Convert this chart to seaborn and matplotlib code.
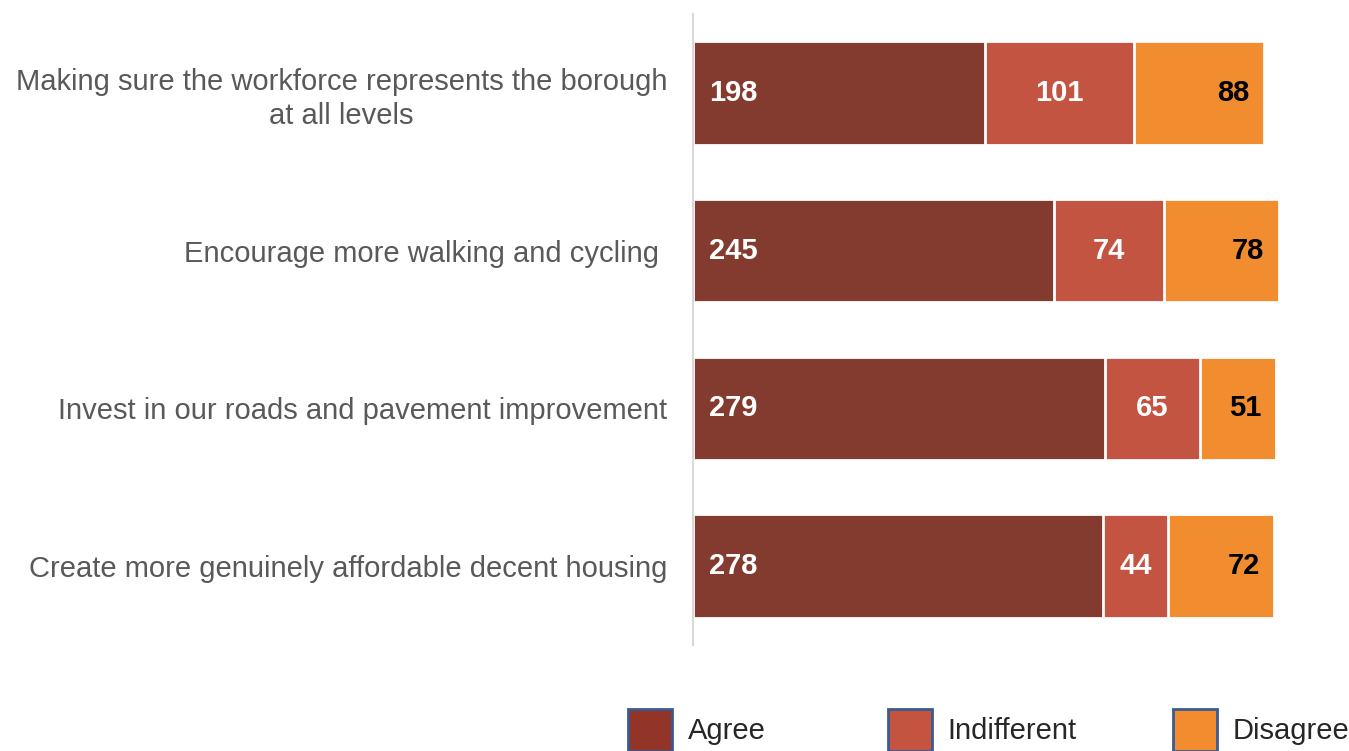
import matplotlib
matplotlib.use("Agg")
import matplotlib.pyplot as plt
from matplotlib.patches import Patch
import pandas as pd
import seaborn as sns

categories = [
    "Making sure the workforce represents the borough\nat all levels",
    "Encourage more walking and cycling ",
    "Invest in our roads and pavement improvement",
    "Create more genuinely affordable decent housing",
]
agree = [198, 245, 279, 278]
indifferent = [101, 74, 65, 44]
disagree = [88, 78, 51, 72]
series_names = ["Agree", "Indifferent", "Disagree"]

bar_colors = ["#833B30", "#C35441", "#F18D2F"]
legend_colors = ["#923428", "#C4533F", "#F28C2E"]

sns.set_style("white")
plt.rcParams["font.family"] = ["Liberation Sans", "DejaVu Sans"]
FS = 21

df = pd.DataFrame({"category": categories, "Agree": agree,
                   "Indifferent": indifferent, "Disagree": disagree})
df["c1"] = df["Agree"]
df["c2"] = df["Agree"] + df["Indifferent"]
df["c3"] = df["c2"] + df["Disagree"]

fig = plt.figure(figsize=(13.49, 7.51), dpi=100)
ax = fig.add_axes([693 / 1349, 106 / 751, 619.5 / 1349, 631 / 751])

# stacked bars drawn back to front as cumulative totals
for col, c in zip(["c3", "c2", "c1"], bar_colors[::-1]):
    sns.barplot(data=df, y="category", x=col, orient="h", color=c,
                width=0.655, edgecolor="white", linewidth=2, ax=ax,
                saturation=1)

ax.set_xlim(0, 420)
ax.set_ylim(3.5, -0.5)
ax.set_xlabel("")
ax.set_ylabel("")
ax.set_xticks([])
for s in ["top", "right", "bottom"]:
    ax.spines[s].set_visible(False)
ax.spines["left"].set_color("#D9D9D9")
ax.spines["left"].set_linewidth(1.5)

ax.tick_params(axis="y", length=0, pad=18.5, labelsize=FS, labelcolor="#595959")
for lab in ax.get_yticklabels():
    lab.set_multialignment("center")
    lab.set_linespacing(1.27)

# value labels
for i in range(len(categories)):
    ax.annotate(str(agree[i]), (0, i), xytext=(11.5, 0), textcoords="offset points",
                ha="left", va="center", color="white", fontsize=FS, fontweight="bold")
    ax.annotate(str(indifferent[i]), (agree[i] + indifferent[i] / 2, i),
                ha="center", va="center", color="white", fontsize=FS, fontweight="bold")
    ax.annotate(str(disagree[i]), (df["c3"][i], i), xytext=(-10.5, 0),
                textcoords="offset points", ha="right", va="center",
                color="black", fontsize=FS, fontweight="bold")

# legend, one entry each so the spacing matches
legend_x = [628, 888, 1173]
for name, c, x in zip(series_names, legend_colors, legend_x):
    h = Patch(facecolor=c, edgecolor="#3A5A94", linewidth=2)
    fig.legend(handles=[h], labels=[name], loc="center left",
               bbox_to_anchor=(x / 1349, 21 / 751), frameon=False,
               fontsize=FS, handlelength=1.5, handleheight=1.81,
               handletextpad=0.55, borderpad=0, borderaxespad=0)

fig.savefig("out.png", dpi=100)
